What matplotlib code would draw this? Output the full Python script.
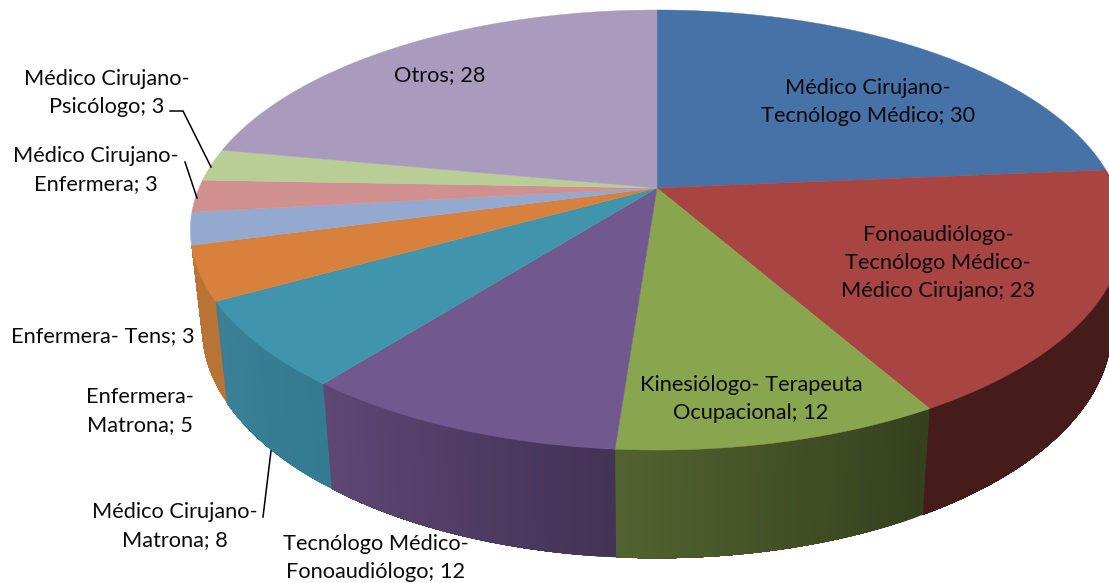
import numpy as np
import matplotlib
matplotlib.use("Agg")
import matplotlib.pyplot as plt
from matplotlib.colors import to_rgb

plt.rcParams["font.family"] = ["Lato", "DejaVu Sans"]

# Slices, clockwise from 12 o'clock
values = [30, 23, 12, 12, 8, 5, 3, 3, 3, 28]
labels = [
    "Médico Cirujano-\nTecnólogo Médico; 30",
    "Fonoaudiólogo-\nTecnólogo Médico-\nMédico Cirujano; 23",
    "Kinesiólogo- Terapeuta\nOcupacional; 12",
    "Tecnólogo Médico-\nFonoaudiólogo; 12",
    "Médico Cirujano-\nMatrona; 8",
    "Enfermera-\nMatrona; 5",
    "Enfermera- Tens; 3",
    "Médico Cirujano-\nEnfermera; 3",
    "Médico Cirujano-\nPsicólogo; 3",
    "Otros; 28",
]
colors = ["#4672A8", "#A84442", "#89A54E", "#71588F", "#4095AD",
          "#D8813C", "#93A9CF", "#D09090", "#B9CD96", "#A99BBD"]
# Side wall colours (clockwise start, clockwise end) for the front slices
wall_colors = {
    1: ("#451C1A", "#451C1A"),
    2: ("#35401E", "#52622F"),
    3: ("#433355", "#5E4776"),
    4: ("#327B90", "#3B8097"),
    5: ("#B97335", "#B97335"),
}
label_pos = [(868, 102), (938, 263), (751, 399), (376, 558), (175, 526),
             (140, 411), (103, 336), (96, 170), (107, 93), (440, 75)]
leaders = [
    ([170, 183, 211], [111, 111, 167]),
    ([185, 197], [162, 198]),
    ([263, 271], [517, 451]),
]

# Perspective of the disc, in pixels
cx, cy = 657, 188
rx, ry, persp = 458, 212, 0.191
wall_sx, wall_dy, wall_sy = 0.975, 95.6, 1.048


def top_edge(theta):
    u, v = np.sin(theta), np.cos(theta)
    d = 1 + persp * v
    return cx + rx * u / d, cy - ry * v / d


def bottom_edge(theta):
    x, y = top_edge(theta)
    return cx + wall_sx * (x - cx), cy + wall_dy + wall_sy * (y - cy)


edges = np.cumsum([0] + values) / sum(values) * 2 * np.pi

fig, ax = plt.subplots(figsize=(11.09, 5.83), dpi=100)
ax.set_position([0, 0, 1, 1])
ax.set_xlim(0, 1109)
ax.set_ylim(583, 0)
ax.axis("off")

# side walls: each strip runs to the slice end, so the next one paints over it
for i, (c0, c1) in wall_colors.items():
    c0, c1 = np.array(to_rgb(c0)), np.array(to_rgb(c1))
    steps = np.linspace(edges[i], edges[i + 1], 61)
    for j in range(60):
        t = np.linspace(steps[j], edges[i + 1], 80)
        xt, yt = top_edge(t)
        xb, yb = bottom_edge(t)
        col = c0 + (c1 - c0) * j / 59
        ax.fill(np.r_[xt, xb[::-1]], np.r_[yt, yb[::-1]], color=col, lw=0)

# top surface
for i, col in enumerate(colors):
    t = np.linspace(edges[i], edges[i + 1], 120)
    x, y = top_edge(t)
    ax.fill(np.r_[cx, x], np.r_[cy, y], color=col, lw=0.3)

for xs, ys in leaders:
    ax.plot(xs, ys, color="black", lw=1.1)

for text, (x, y) in zip(labels, label_pos):
    ax.text(x, y, text, ha="center", va="center", fontsize=15.7,
            color="#0a0a0a", linespacing=1.52)

fig.savefig("out.png", dpi=100)
